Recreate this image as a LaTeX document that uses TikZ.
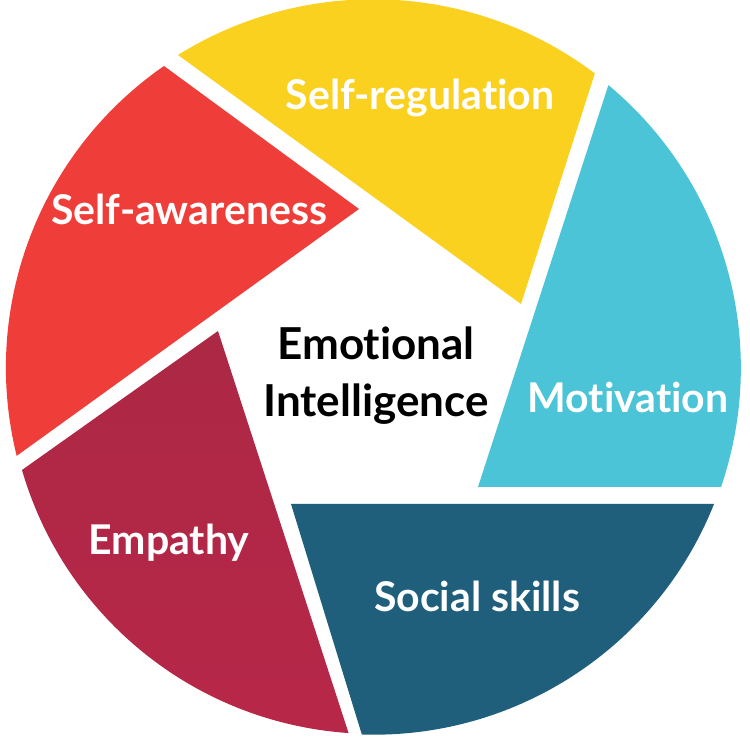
\documentclass[tikz,border=0pt]{standalone}
\usepackage{fontspec}
\setmainfont{Lato}[Ligatures=NoCommon]
\definecolor{cyel}{HTML}{FAD11E}
\definecolor{ccya}{HTML}{4BC4D8}
\definecolor{cblu}{HTML}{1F5F7C}
\definecolor{ccria}{HTML}{AC2845}
\definecolor{ccrib}{HTML}{B72748}
\definecolor{cred}{HTML}{EF3E39}
\tikzset{
  lab/.style={text=white,font=\bfseries\fontsize{41}{41}\selectfont,inner sep=0pt,anchor=base},
  mid/.style={text=black,font=\bfseries\fontsize{44}{44}\selectfont,inner sep=0pt,anchor=base}
}
\begin{document}
\begin{tikzpicture}[x=1pt,y=1pt]
\useasboundingbox (0,0) rectangle (750,750);
\fill[white] (0,0) rectangle (750,750);
\fill[cyel] (521,446) -- (178,695) arc[start angle=121.9,end angle=53.04,radius=369pt] -- cycle;
\fill[ccya] (478,263) -- (721,263) arc[start angle=-18.9,end angle=50.2,radius=368pt] -- cycle;
\fill[cblu] (291,246) -- (714,246) arc[start angle=-21.7,end angle=-91.9,radius=366pt] -- cycle;
\shade[top color=ccria,bottom color=ccrib] (218,419) -- (22,280) arc[start angle=-163.8,end angle=-93.9,radius=366pt] -- cycle;
\fill[cred] (359,541) -- (164,684) arc[start angle=124.7,end angle=193.9,radius=367pt] -- cycle;
\node[lab] (a) at (420,640) {Self-regulation};
\node[lab] (b) at (189,525) {Self-awareness};
\node[lab] (c) at (628,337) {Motivation};
\node[lab] (d) at (477,138) {Social skills};
\node[lab] (e) at (169,195) {Empathy};
\node[mid] (f) at (376,390) {Emotional};
\node[mid] (g) at (376,333) {Intelligence};
\end{tikzpicture}
\end{document}
